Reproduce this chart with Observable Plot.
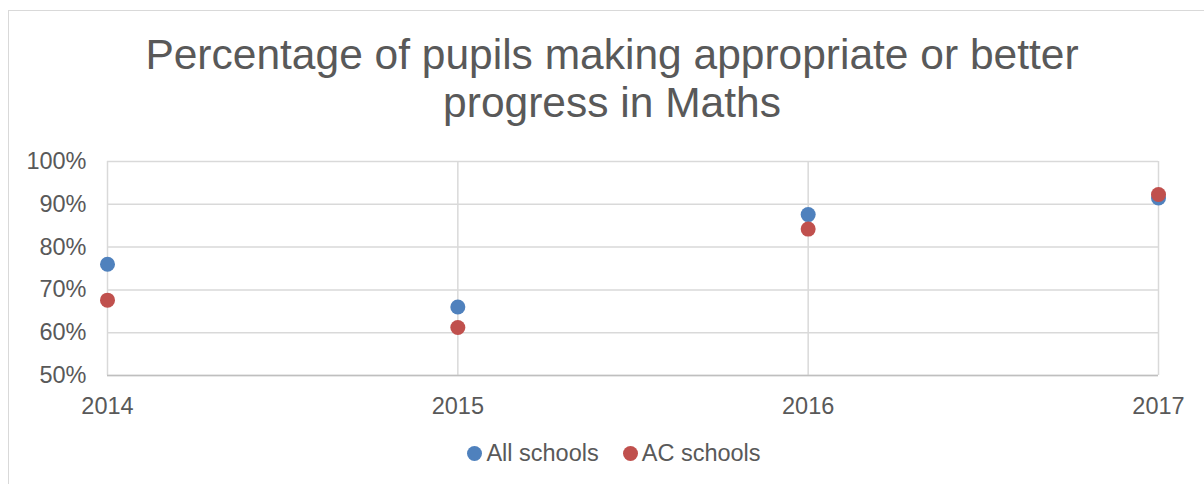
<!DOCTYPE html>
<html>
<head>
<meta charset="utf-8">
<script src="https://cdn.jsdelivr.net/npm/d3@7"></script>
<script src="https://cdn.jsdelivr.net/npm/@observablehq/plot@0.6"></script>
<style>
  html, body { margin: 0; padding: 0; background: #fff; }
  body { width: 1204px; height: 484px; overflow: hidden; position: relative; font-family: "Liberation Sans", Arial, sans-serif; color: #595959; }
  #frame { position: absolute; left: 8px; top: 10px; width: 1220px; height: 500px; border-left: 1px solid #D9D9D9; border-top: 1px solid #D9D9D9; }
  #title { position: absolute; left: 0; top: 31px; width: 1224px; text-align: center; font-size: 42.5px; line-height: 48px; color: #595959; }
  #chart { position: absolute; left: 0; top: 140px; }
  #legend { position: absolute; left: 0; top: 438px; width: 1228px; display: flex; justify-content: center; gap: 24px; font-size: 23.5px; line-height: 30px; color: #595959; }
  .item { display: flex; align-items: center; }
  .sw { width: 15px; height: 15px; border-radius: 50%; margin-right: 4px; display: inline-block; }
</style>
</head>
<body>
<div id="frame"></div>
<div id="title">Percentage of pupils making appropriate or better<br>progress in Maths</div>
<div id="chart"></div>
<div id="legend"></div>
<script>
const years = [2014, 2015, 2016, 2017];
const allSchools = [76.0, 66.0, 87.6, 91.5];
const acSchools = [67.6, 61.2, 84.2, 92.3];
const seriesNames = ["All schools", "AC schools"];
const seriesColors = ["#4F81BD", "#C0504D"];
const yTicks = [50, 60, 70, 80, 90, 100];

const data = [];
years.forEach((y, i) => {
  data.push({year: y, value: allSchools[i], series: seriesNames[0]});
  data.push({year: y, value: acSchools[i], series: seriesNames[1]});
});

const chart = Plot.plot({
  width: 1204,
  height: 280,
  marginLeft: 107,
  marginRight: 46,
  marginTop: 21,
  marginBottom: 45,
  style: {fontFamily: '"Liberation Sans", Arial, sans-serif', fontSize: "23.5px", color: "#595959", background: "transparent"},
  x: {domain: [2014, 2017], ticks: years, tickFormat: d3.format("d")},
  y: {domain: [50, 100], ticks: yTicks, tickFormat: d => d + "%"},
  color: {domain: seriesNames, range: seriesColors},
  marks: [
    Plot.gridY(yTicks, {stroke: "#D9D9D9", strokeOpacity: 1, strokeWidth: 1.5}),
    Plot.gridX(years, {stroke: "#D9D9D9", strokeOpacity: 1, strokeWidth: 1.5}),
    Plot.ruleY([50], {stroke: "#BFBFBF", strokeWidth: 1.5}),
    Plot.axisY({ticks: yTicks, tickSize: 0, tickPadding: 21, tickFormat: d => d + "%", label: null, fill: "#595959"}),
    Plot.axisX({ticks: years, tickSize: 0, tickPadding: 22, tickFormat: d3.format("d"), label: null, fill: "#595959"}),
    Plot.dot(data, {x: "year", y: "value", fill: "series", r: 7.5, stroke: null})
  ]
});
document.getElementById("chart").appendChild(chart);

const legend = document.getElementById("legend");
seriesNames.forEach((n, i) => {
  const it = document.createElement("div");
  it.className = "item";
  const sw = document.createElement("span");
  sw.className = "sw";
  sw.style.background = seriesColors[i];
  it.appendChild(sw);
  it.appendChild(document.createTextNode(n));
  legend.appendChild(it);
});
</script>
</body>
</html>
